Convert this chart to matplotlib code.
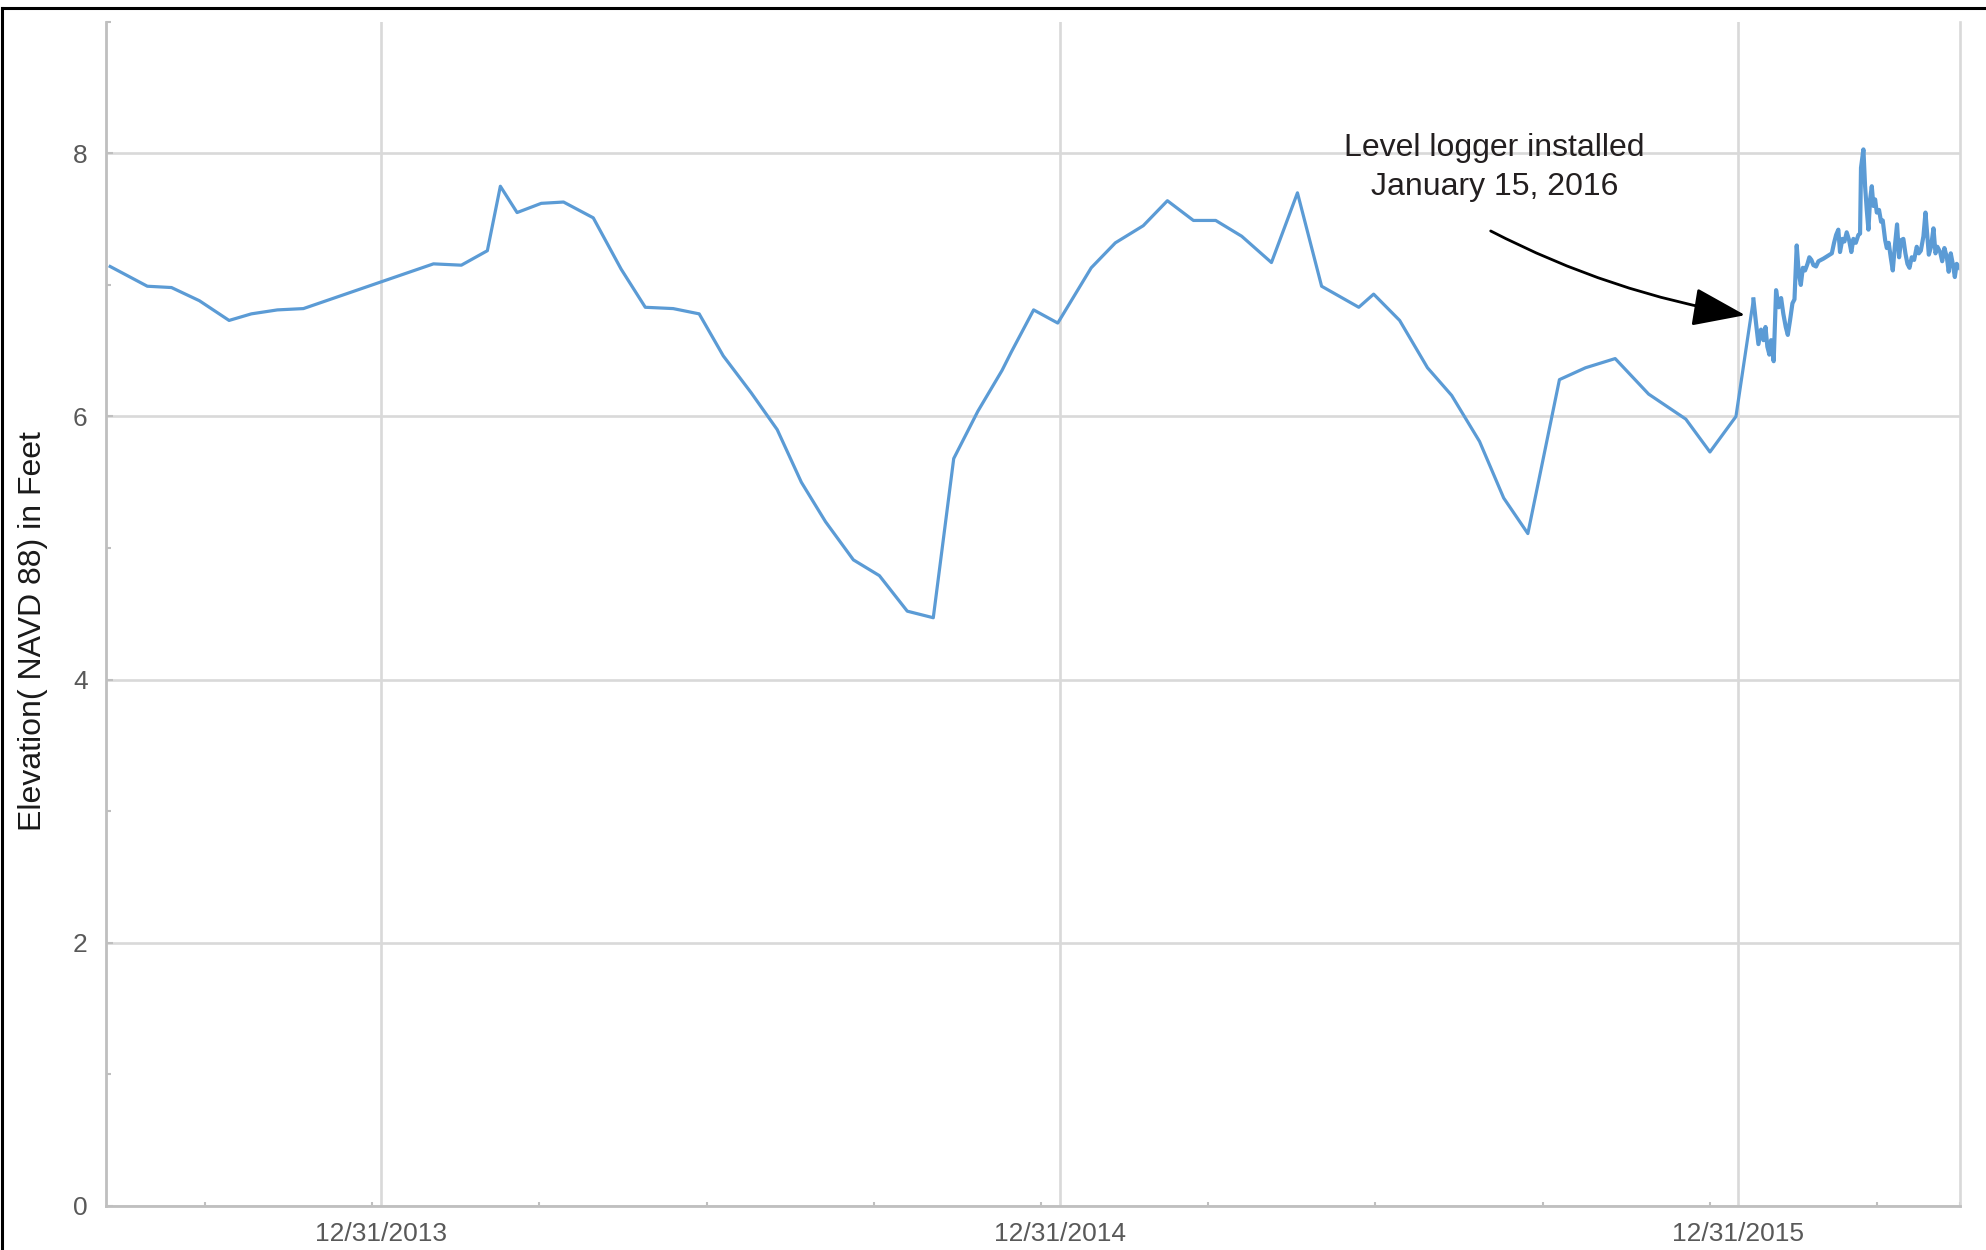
import matplotlib

matplotlib.use("Agg")

import matplotlib.dates as mdates
import matplotlib.pyplot as plt
import pandas as pd
from matplotlib.lines import Line2D

plt.rcParams["font.family"] = ["Liberation Sans", "DejaVu Sans"]

# manual staff-gauge readings
survey_dates = [
    "2013-08-07", "2013-08-27", "2013-09-09", "2013-09-24", "2013-10-10", "2013-10-22",
    "2013-11-05", "2013-11-19", "2014-01-28", "2014-02-12", "2014-02-26", "2014-03-05",
    "2014-03-14", "2014-03-27", "2014-04-08", "2014-04-24", "2014-05-09", "2014-05-22",
    "2014-06-06", "2014-06-20", "2014-07-03", "2014-07-18", "2014-08-01", "2014-08-14",
    "2014-08-27", "2014-09-11", "2014-09-25", "2014-10-10", "2014-10-24", "2014-11-04",
    "2014-11-17", "2014-11-30", "2014-12-05", "2014-12-17", "2014-12-30", "2015-01-17",
    "2015-01-30", "2015-02-14", "2015-02-27", "2015-03-13", "2015-03-25", "2015-04-08",
    "2015-04-24", "2015-05-08", "2015-05-21", "2015-06-10", "2015-06-18", "2015-07-02",
    "2015-07-17", "2015-07-30", "2015-08-14", "2015-08-27", "2015-09-09", "2015-09-26",
    "2015-10-10", "2015-10-26", "2015-11-13", "2015-12-03", "2015-12-16", "2015-12-30",
]
survey_elev = [
    7.14, 6.99, 6.98, 6.88, 6.73, 6.78,
    6.81, 6.82, 7.16, 7.15, 7.26, 7.75,
    7.55, 7.62, 7.63, 7.51, 7.12, 6.83,
    6.82, 6.78, 6.46, 6.18, 5.90, 5.50,
    5.20, 4.91, 4.79, 4.52, 4.47, 5.68,
    6.04, 6.35, 6.49, 6.81, 6.71, 7.13,
    7.32, 7.45, 7.64, 7.49, 7.49, 7.37,
    7.17, 7.70, 6.99, 6.83, 6.93, 6.73,
    6.37, 6.16, 5.81, 5.38, 5.11, 6.28,
    6.37, 6.44, 6.17, 5.98, 5.73, 6.00,
]

# level logger record, day of 2016
logger_day = [
    8.4, 9.8, 11.1, 12.5, 13.8, 14.9, 15.9, 17.0, 17.9, 19.3,
    20.6, 22.0, 23.3, 24.5, 25.8, 26.9, 28.1, 29.4, 30.5, 31.7,
    32.8, 33.9, 35.0, 36.2, 37.5, 38.5, 39.6, 40.7, 42.1, 43.4,
    46.1, 50.6, 51.8, 52.9, 54.1, 55.0, 56.3, 57.4, 58.6, 59.9,
    61.1, 62.2, 63.5, 64.9, 65.8, 66.3, 67.6, 68.5, 69.4, 70.3,
    71.2, 72.1, 73.0, 73.9, 74.8, 76.0, 77.1, 78.0, 79.3, 80.2,
    81.2, 82.3, 83.4, 84.5, 85.7, 86.8, 87.9, 89.1, 90.2, 91.3,
    92.4, 93.6, 94.9, 96.3, 97.4, 98.5, 99.9, 101.0, 101.9, 102.8,
    104.0, 105.3, 106.4, 107.4, 108.9, 110.0, 111.2, 112.5, 113.5, 114.6,
    115.7, 116.8, 117.8, 119.3,
]
logger_elev = [
    6.89, 6.71, 6.55, 6.66, 6.58, 6.68, 6.53, 6.47, 6.58, 6.42,
    6.96, 6.83, 6.90, 6.78, 6.68, 6.62, 6.73, 6.86, 6.89, 7.30,
    7.09, 7.00, 7.13, 7.11, 7.16, 7.21, 7.19, 7.15, 7.14, 7.18,
    7.20, 7.24, 7.32, 7.38, 7.42, 7.25, 7.35, 7.33, 7.40, 7.34,
    7.25, 7.35, 7.32, 7.38, 7.39, 7.89, 8.03, 7.75, 7.57, 7.42,
    7.65, 7.75, 7.60, 7.65, 7.55, 7.57, 7.48, 7.49, 7.34, 7.28,
    7.32, 7.21, 7.11, 7.29, 7.46, 7.21, 7.34, 7.35, 7.24, 7.16,
    7.13, 7.21, 7.19, 7.29, 7.24, 7.26, 7.37, 7.55, 7.39, 7.23,
    7.29, 7.43, 7.24, 7.29, 7.25, 7.18, 7.28, 7.21, 7.10, 7.24,
    7.16, 7.06, 7.16, 7.13,
]

year_ticks = ["2013-12-31", "2014-12-31", "2015-12-31"]
y_major = [0, 2, 4, 6, 8]
y_minor = [1, 3, 5, 7, 9]
x_start = "2013-08-05"
x_end = "2016-04-28 14:00"

survey_t = pd.to_datetime(survey_dates)
logger_t = pd.Timestamp("2015-12-31") + pd.to_timedelta(logger_day, unit="D")

fig = plt.figure(figsize=(19.86, 12.5), dpi=100)
ax = fig.add_axes([0.0536, 0.03536, 0.98691 - 0.0536, 0.98256 - 0.03536])

line_color = "#5b9bd5"
ax.plot(
    list(survey_t) + [logger_t[0]],
    survey_elev + [logger_elev[0]],
    color=line_color,
    lw=2.3,
)
ax.plot(logger_t, logger_elev, color=line_color, lw=3.0, solid_joinstyle="round")

ax.set_xlim(mdates.date2num(pd.Timestamp(x_start)), mdates.date2num(pd.Timestamp(x_end)))
ax.set_ylim(0, 9)

ax.set_xticks(mdates.date2num(pd.to_datetime(year_ticks)))
ax.xaxis.set_major_formatter(mdates.DateFormatter("%m/%d/%Y"))
minor_x = list(pd.date_range("2013-09-27", periods=11, freq="90D")) + [pd.Timestamp(x_end)]
ax.set_xticks(mdates.date2num(minor_x), minor=True)
ax.set_yticks(y_major)
ax.set_yticks(y_minor, minor=True)
ax.set_yticklabels([str(v) for v in y_major])

ax.set_axisbelow(True)
ax.grid(True, which="major", color="#d9d9d9", lw=1.9)

for side in ["left", "bottom"]:
    ax.spines[side].set_color("#bfbfbf")
    ax.spines[side].set_linewidth(2.0)
ax.spines["top"].set_visible(False)
ax.spines["right"].set_color("#d9d9d9")
ax.spines["right"].set_linewidth(1.9)

ax.tick_params(axis="both", which="both", direction="in", colors="#bfbfbf",
               labelcolor="#595959", labelsize=19, width=1.5)
ax.tick_params(axis="y", which="major", length=5, pad=13.5)
ax.tick_params(axis="y", which="minor", length=3.3)
ax.tick_params(axis="x", which="major", length=0, pad=12)
ax.tick_params(axis="x", which="minor", length=3)

fig.text(0.0165, 0.4949, "Elevation( NAVD 88) in Feet", rotation=90,
         ha="center", va="center", fontsize=23, color="#1a1a1a")

ax.text(mdates.date2num(pd.Timestamp("2015-08-22")), 7.89,
        "Level logger installed\nJanuary 15, 2016",
        ha="center", va="center", fontsize=23, color="#231f20", linespacing=1.4)
ax.annotate(
    "",
    xy=(mdates.date2num(pd.Timestamp("2016-01-04")), 6.77),
    xytext=(mdates.date2num(pd.Timestamp("2015-08-20")), 7.41),
    arrowprops=dict(arrowstyle="-|>,head_length=3.3,head_width=1.2", mutation_scale=10,
                    connectionstyle="arc3,rad=0.08", color="black", lw=2,
                    shrinkA=0, shrinkB=0),
)

# outer frame (left and top edges only show in the crop)
fig.add_artist(Line2D([0.00123, 0.00123], [0, 0.99384], transform=fig.transFigure,
                      color="black", lw=2.2))
fig.add_artist(Line2D([0.00123, 1], [0.99384, 0.99384], transform=fig.transFigure,
                      color="black", lw=2.2))

fig.savefig("out.png", dpi=100)
plt.close(fig)
